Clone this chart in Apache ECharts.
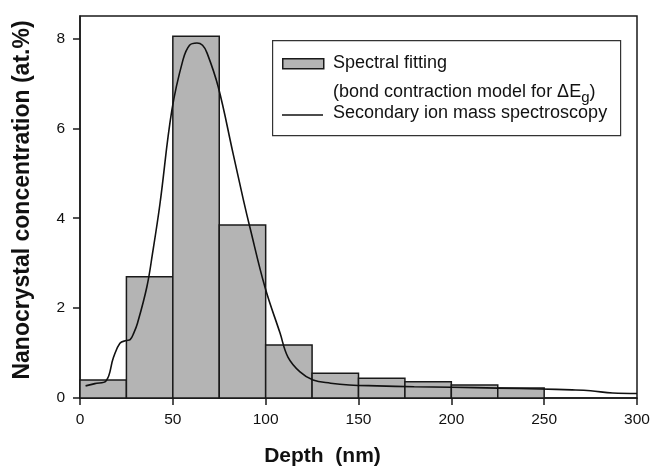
<!DOCTYPE html>
<html>
<head>
<meta charset="utf-8">
<script src="https://cdn.jsdelivr.net/npm/echarts@6/dist/echarts.min.js"></script>
<style>html,body{margin:0;padding:0;background:#fff;}#c{width:655px;height:472px;}</style>
</head>
<body>
<div id="c"></div>
<script>
// Histogram bins (depth, nm) and spectral-fitting concentrations (at.%)
var binStart = [0, 25, 50, 75, 100, 125, 150, 175, 200, 225];
var binEnd   = [25, 50, 75, 100, 125, 150, 175, 200, 225, 250];
var fitConc  = [0.4, 2.7, 8.05, 3.85, 1.18, 0.55, 0.44, 0.36, 0.29, 0.22];

// SIMS profile
var simsDepth = [3, 8, 14, 18, 21.5, 25, 27, 29, 31, 36, 39, 43, 49.5, 55.5, 59, 63, 66, 68.4, 74.4, 82.4, 88, 91.5, 99.6, 107.7, 112, 118.5, 125.5, 135, 145, 160, 180, 200, 225, 248, 265, 275, 287, 300];
var simsConc  = [0.27, 0.32, 0.38, 0.9, 1.22, 1.28, 1.3, 1.45, 1.67, 2.47, 3.2, 4.3, 6.41, 7.53, 7.85, 7.9, 7.85, 7.68, 6.93, 5.45, 4.41, 3.8, 2.47, 1.45, 0.91, 0.58, 0.4, 0.33, 0.29, 0.27, 0.25, 0.24, 0.22, 0.2, 0.18, 0.16, 0.11, 0.1];

var xTicks = [0, 50, 100, 150, 200, 250, 300];
var yTicks = [0, 2, 4, 6, 8];

var histData = binStart.map(function (s, i) { return [s, binEnd[i], fitConc[i]]; });
var simsData = simsDepth.map(function (d, i) { return [d, simsConc[i]]; });

var chart = echarts.init(document.getElementById('c'));
var FONT = 'Liberation Sans, Arial, sans-serif';
chart.setOption({
  animation: false,
  backgroundColor: '#fff',
  grid: { left: 80, right: 18, top: 16, bottom: 74, show: true, borderColor: '#1a1a1a', borderWidth: 1.5, backgroundColor: 'transparent' },
  xAxis: {
    type: 'value', min: 0, max: 300, interval: 50,
    name: 'Depth  (nm)', nameLocation: 'middle', nameGap: 48,
    nameTextStyle: { fontFamily: FONT, fontSize: 21, fontWeight: 'bold', color: '#111', padding: [0, 72, 0, 0] },
    axisLine: { lineStyle: { color: '#1a1a1a', width: 1.5 } },
    axisTick: { show: true, length: 7, lineStyle: { color: '#1a1a1a', width: 1.5 }, customValues: xTicks },
    axisLabel: { fontFamily: FONT, fontSize: 15.5, color: '#111', margin: 14, customValues: xTicks },
    splitLine: { show: false }
  },
  yAxis: {
    type: 'value', min: 0, max: 8.5, interval: 2,
    name: 'Nanocrystal concentration (at.%)', nameLocation: 'middle', nameGap: 46,
    nameTextStyle: { fontFamily: FONT, fontSize: 23, fontWeight: 'bold', color: '#111', padding: [0, 0, 0, 14] },
    axisLine: { show: true, lineStyle: { color: '#1a1a1a', width: 1.5 } },
    axisTick: { show: true, length: 7, lineStyle: { color: '#1a1a1a', width: 1.5 }, customValues: yTicks },
    axisLabel: { fontFamily: FONT, fontSize: 15.5, color: '#111', margin: 15, customValues: yTicks },
    splitLine: { show: false }
  },
  series: [
    {
      type: 'custom',
      name: 'Spectral fitting',
      data: histData,
      encode: { x: [0, 1], y: 2 },
      renderItem: function (params, api) {
        var p0 = api.coord([api.value(0), api.value(2)]);
        var p1 = api.coord([api.value(1), 0]);
        return {
          type: 'rect',
          shape: { x: p0[0], y: p0[1], width: p1[0] - p0[0], height: p1[1] - p0[1] },
          style: { fill: '#b4b4b4', stroke: '#1a1a1a', lineWidth: 1.5 }
        };
      },
      z: 2
    },
    {
      type: 'line',
      name: 'Secondary ion mass spectroscopy',
      data: simsData,
      showSymbol: false,
      smooth: 0.4,
      lineStyle: { color: '#111', width: 1.6 },
      z: 3
    }
  ],
  graphic: [
    { type: 'rect', left: 272, top: 40, shape: { width: 348, height: 95 }, style: { fill: '#fff', stroke: '#333', lineWidth: 1.2 }, z: 10 },
    { type: 'rect', left: 282, top: 58, shape: { width: 41, height: 10 }, style: { fill: '#b4b4b4', stroke: '#1a1a1a', lineWidth: 1.5 }, z: 11 },
    { type: 'line', shape: { x1: 282, y1: 115, x2: 323, y2: 115 }, style: { stroke: '#111', lineWidth: 1.5 }, z: 11 },
    { type: 'text', left: 333, top: 54, style: { text: 'Spectral fitting', fontFamily: FONT, fontSize: 18, fill: '#111' }, z: 11 },
    { type: 'text', left: 333, top: 83, style: {
        text: '{a|(bond contraction model for ΔE}{s|g}{a|)}',
        rich: {
          a: { fontFamily: FONT, fontSize: 18, fill: '#111', color: '#111' },
          s: { fontFamily: FONT, fontSize: 15, fill: '#111', color: '#111', padding: [12, 0, 0, 0] }
        }
      }, z: 11 },
    { type: 'text', left: 333, top: 104, style: { text: 'Secondary ion mass spectroscopy', fontFamily: FONT, fontSize: 18, fill: '#111' }, z: 11 }
  ]
});
</script>
</body>
</html>
